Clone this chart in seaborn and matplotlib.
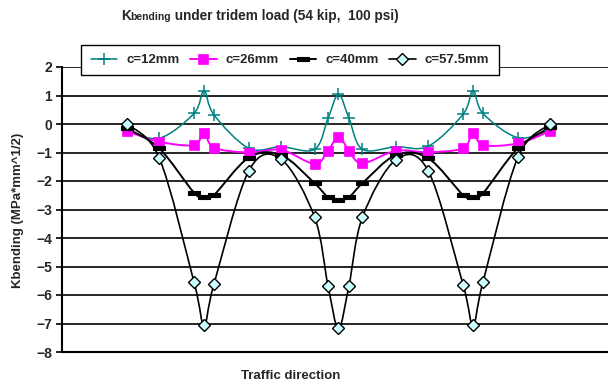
import numpy as np
import pandas as pd
import seaborn as sns
import matplotlib.pyplot as plt
from matplotlib.path import Path
from matplotlib.patches import PathPatch
from matplotlib.lines import Line2D

# position along traffic direction (in), shared by all series
position = [-85, -72, -58, -54, -50, -36, -23, -9.6, -4.2, 0, 4.2, 9.6,
            23, 36, 50, 54, 58, 72, 85]

c12 = [-0.2, -0.5, 0.37, 1.17, 0.32, -0.85, -0.8, -0.89, 0.2, 1.04, 0.2, -0.89,
       -0.8, -0.78, 0.34, 1.17, 0.37, -0.48, -0.2]
c26 = [-0.25, -0.62, -0.74, -0.3, -0.83, -1.0, -0.91, -1.4, -0.94, -0.44, -0.94, -1.38,
       -0.94, -0.99, -0.85, -0.3, -0.74, -0.68, -0.25]
c40 = [-0.15, -0.85, -2.41, -2.55, -2.49, -1.18, -1.09, -2.08, -2.57, -2.67, -2.57, -2.08,
       -1.09, -1.2, -2.49, -2.57, -2.43, -0.85, -0.12]
c575 = [0.0, -1.18, -5.55, -7.05, -5.62, -1.64, -1.24, -3.27, -5.68, -7.17, -5.67, -3.27,
        -1.26, -1.64, -5.64, -7.05, -5.55, -1.17, 0.0]

labels = ["c=12mm", "c=26mm", "c=40mm", "c=57.5mm"]
y_ticks = list(range(-8, 3))

sns.set_theme(style="white")
plt.rcParams["font.family"] = ["Liberation Sans", "DejaVu Sans"]
plt.rcParams["font.weight"] = "bold"

dash = [(-1, -0.3), (1, -0.3), (1, 0.3), (-1, 0.3), (-1, -0.3)]
styles = [
    dict(color="#008080", lw=1.1, marker="+", ms=8, mew=1.1, mfc="#008080", mec="#008080"),
    dict(color="#FF00FF", lw=1.4, marker="s", ms=7, mew=0.5, mfc="#FF00FF", mec="#FF00FF"),
    dict(color="black", lw=1.4, marker=dash, ms=8, mew=0.8, mfc="black", mec="black"),
    dict(color="black", lw=1.2, marker="D", ms=6, mew=1.0, mfc="#CCFFFF", mec="black"),
]


def smooth_path(x, y, t=1 / 6):
    # Excel-style smoothed line: Catmull-Rom converted to cubic Bezier segments
    x = np.asarray(x, float)
    y = np.asarray(y, float)
    pts = np.column_stack([x, y])
    verts = [pts[0]]
    codes = [Path.MOVETO]
    n = len(pts)
    for i in range(n - 1):
        p0 = pts[i - 1] if i > 0 else pts[i]
        p1, p2 = pts[i], pts[i + 1]
        p3 = pts[i + 2] if i + 2 < n else pts[i + 1]
        verts += [p1 + (p2 - p0) * t, p2 - (p3 - p1) * t, p2]
        codes += [Path.CURVE4] * 3
    return Path(verts, codes)


fig = plt.figure(figsize=(6.08, 3.9), dpi=100)
ax = fig.add_axes([62 / 608, 38 / 390, (615 - 62) / 608, 285 / 390])

df = pd.DataFrame({"position": position, labels[0]: c12, labels[1]: c26,
                   labels[2]: c40, labels[3]: c575})

handles = []
for lab, st in zip(labels, styles):
    ax.add_patch(PathPatch(smooth_path(df["position"], df[lab]), fill=False,
                           edgecolor=st["color"], lw=st["lw"], zorder=3))
    sns.lineplot(data=df, x="position", y=lab, ax=ax, linestyle="", marker=st["marker"],
                 markersize=st["ms"], markeredgewidth=st["mew"],
                 markerfacecolor=st["mfc"], markeredgecolor=st["mec"], zorder=4)
    handles.append(Line2D([], [], color=st["color"], lw=st["lw"], marker=st["marker"],
                          ms=st["ms"], mew=st["mew"], mfc=st["mfc"], mec=st["mec"]))

ax.set_xlim(-111, 111)
ax.set_ylim(-8, 2)
ax.set_yticks(y_ticks)
ax.set_xticks([])
ax.yaxis.grid(True, color="black", lw=1.2)
ax.set_axisbelow(True)
ax.tick_params(axis="y", left=True, length=4, width=1.2, color="black",
               labelsize=10, pad=3)
for t in ax.get_yticklabels():
    t.set_fontweight("bold")
for s in ["top", "right"]:
    ax.spines[s].set_visible(False)
for s in ["left", "bottom"]:
    ax.spines[s].set_color("black")
    ax.spines[s].set_linewidth(1.5)
ax.set_xlabel("")
ax.set_ylabel("")

fig.text(291 / 608, 14 / 390, "Traffic direction", ha="center", va="center",
         fontsize=9.5, fontweight="bold")
fig.text(18 / 608, 180 / 390, "Kbending (MPa*mm^1/2)", ha="center", va="center",
         rotation=90, fontsize=9.5, fontweight="bold")

leg = fig.legend(handles, labels, loc="center", bbox_to_anchor=(290 / 608, 1 - 60 / 390),
                 ncol=4, frameon=True, fancybox=False, framealpha=1,
                 edgecolor="black", fontsize=9.5, handlelength=2.0,
                 columnspacing=0.8, handletextpad=0.7, borderpad=0.7, borderaxespad=0)
leg.get_frame().set_linewidth(1.0)
for t in leg.get_texts():
    t.set_fontweight("bold")

# title: K with smaller "bending", then the rest
renderer = fig.canvas.get_renderer()
x0 = 121 / 608
yb = 1 - 20 / 390
parts = [("K", 9.8), ("bending", 7.5), (" under tridem load (54 kip,  100 psi)", 9.8)]
for txt, size in parts:
    t = fig.text(x0, yb, txt, ha="left", va="baseline", fontsize=size, fontweight="bold")
    bb = t.get_window_extent(renderer)
    x0 += bb.width / fig.bbox.width

fig.savefig("out.png", dpi=100)
